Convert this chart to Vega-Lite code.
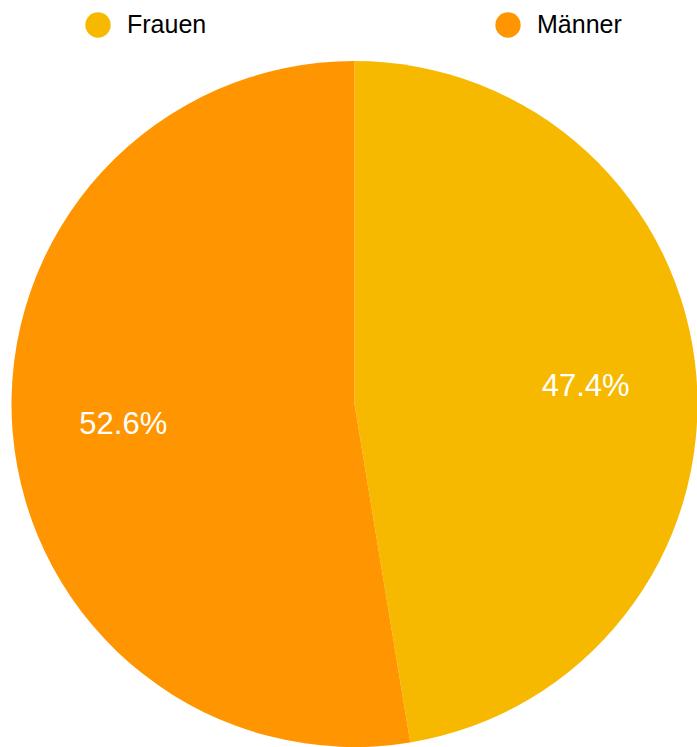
{
  "$schema": "https://vega.github.io/schema/vega-lite/v6.json",
  "autosize": "none",
  "padding": {"top": 61, "left": 0, "right": 0, "bottom": 0},
  "width": 709,
  "height": 686,
  "background": "white",
  "data": {"values": [
    {"gruppe": "Frauen", "anteil": 47.4, "label": "47.4%", "ord": 1},
    {"gruppe": "Männer", "anteil": 52.6, "label": "52.6%", "ord": 2}
  ]},
  "encoding": {
    "theta": {"field": "anteil", "type": "quantitative", "stack": true},
    "order": {"field": "ord", "type": "quantitative"}
  },
  "layer": [
    {
      "mark": {"type": "arc"},
      "encoding": {
        "color": {
          "field": "gruppe", "type": "nominal",
          "scale": {"domain": ["Frauen", "Männer"], "range": ["#F7B900", "#FF9500"]},
          "legend": {
            "title": null,
            "orient": "none",
            "legendX": 85,
            "legendY": -49,
            "direction": "horizontal",
            "columns": 2,
            "columnPadding": 288,
            "symbolType": "circle",
            "symbolSize": 640,
            "symbolStrokeWidth": 0,
            "labelOffset": 16,
            "labelFontSize": 25,
            "labelFont": "Liberation Sans",
            "labelColor": "#000000",
            "labelLimit": 200
          }
        }
      }
    },
    {
      "mark": {"type": "text", "radius": 232, "fontSize": 31, "font": "Liberation Sans", "color": "white", "align": "center", "baseline": "middle", "dy": 2},
      "encoding": {
        "text": {"field": "label", "type": "nominal"}
      }
    }
  ],
  "config": {"view": {"stroke": null}}
}
